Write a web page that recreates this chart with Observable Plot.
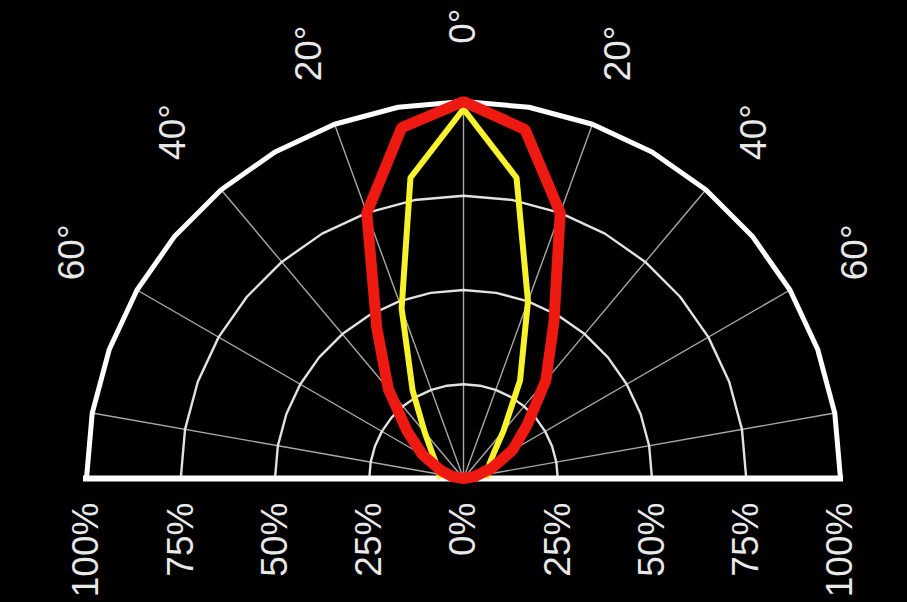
<!DOCTYPE html>
<html>
<head>
<meta charset="utf-8">
<script src="https://cdn.jsdelivr.net/npm/d3@7"></script>
<script src="https://cdn.jsdelivr.net/npm/@observablehq/plot@0.6"></script>
<style>
  html, body { margin: 0; padding: 0; background: #000; }
  #chart { width: 907px; height: 602px; overflow: hidden; }
</style>
</head>
<body>
<div id="chart"></div>
<script>
// ---- data (angle in degrees from vertical, value in % of max intensity) ----
const angles        = [-90, -80, -70, -60, -50, -40, -30, -20, -10, 0, 10, 20, 30, 40, 50, 60, 70, 80, 90];
const redValues     = [0, 3, 6.5, 12.5, 19.5, 31, 46, 75, 94.5, 100, 94, 75, 48, 34, 22, 15, 8, 3, 0];
const yellowValues  = [6, 6.5, 7, 8.5, 11, 16, 27, 48, 81, 98, 81, 50, 30, 16.5, 10.5, 8, 7, 6.5, 6];
const ringValues    = [25, 50, 75, 100];
const spokeAngles   = [-80, -60, -40, -20, 0, 20, 40, 60, 80];
const angleLabels   = [-60, -40, -20, 0, 20, 40, 60];
const percentTicks  = [-100, -75, -50, -25, 0, 25, 50, 75, 100];

const rad = a => a * Math.PI / 180;
const px = (a, v) => (v / 100) * Math.sin(rad(a));
const py = (a, v) => (v / 100) * Math.cos(rad(a));

const redPts = angles.map((a, i) => ({x: px(a, redValues[i]), y: py(a, redValues[i])}));
const yellowPts = angles.map((a, i) => ({x: px(a, yellowValues[i]), y: py(a, yellowValues[i])}));

const gridSteps = d3.range(-90, 91, 10);
const innerRings = ringValues.filter(r => r < 100).flatMap(r => gridSteps.map(a => ({r, x: px(a, r), y: py(a, r)})));
const outerRing = gridSteps.map(a => ({x: px(a, 100), y: py(a, 100)}));
const spokes = spokeAngles.map(a => ({x2: px(a, 100), y2: py(a, 100)}));
const angleText = angleLabels.map(a => ({x: px(a, 120), y: py(a, 120), t: Math.abs(a) + "°"}));
const pctText = percentTicks.map(p => ({x: p / 100, t: Math.abs(p) + "%"}));

const chart = Plot.plot({
  width: 907,
  height: 602,
  margin: 0,
  style: {background: "#000", color: "#fff", fontFamily: "'Liberation Sans', Arial, sans-serif"},
  x: {domain: [-1, 1], range: [86, 840], axis: null},
  y: {domain: [0, 1], range: [478, 101], axis: null},
  marks: [
    Plot.link(spokes, {x1: d => 0, y1: d => 0, x2: "x2", y2: "y2", stroke: "#a8a8a8", strokeWidth: 1.4}),
    Plot.line(innerRings, {x: "x", y: "y", z: "r", stroke: "#e2e2e2", strokeWidth: 2.4, strokeLinejoin: "round"}),
    Plot.line(outerRing, {x: "x", y: "y", stroke: "#ffffff", strokeWidth: 5, strokeLinejoin: "round"}),
    Plot.ruleY([0], {x1: -1.008, x2: 1.008, stroke: "#ffffff", strokeWidth: 6}),
    Plot.line(yellowPts, {x: "x", y: "y", stroke: "#f6f22c", strokeWidth: 6, strokeLinejoin: "miter", strokeLinecap: "butt"}),
    Plot.line(redPts, {x: "x", y: "y", stroke: "#ee1a12", strokeWidth: 11, strokeLinejoin: "miter", strokeLinecap: "round"}),
    Plot.text(angleText, {x: "x", y: "y", text: "t", rotate: -90, fontSize: 37, fill: "#e8e8e8", textAnchor: "middle"}),
    Plot.text(pctText, {x: "x", y: d => -0.064, text: "t", rotate: -90, fontSize: 37, fill: "#e8e8e8", textAnchor: "end"})
  ]
});
document.getElementById("chart").appendChild(chart);
</script>
</body>
</html>
